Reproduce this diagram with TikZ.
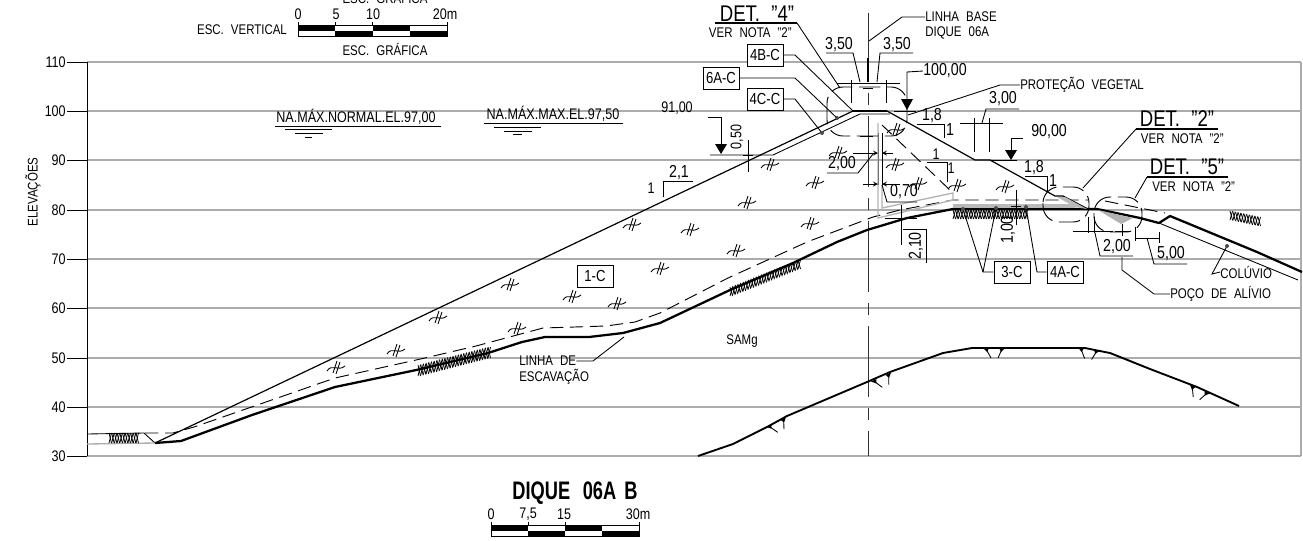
\documentclass[tikz,border=0pt]{standalone}
\usepackage{fontspec}
\setmainfont[FakeStretch=0.82, WordSpace=2.2]{Liberation Sans}
\newfontfamily\titlefont[FakeStretch=0.72, WordSpace=1.6]{Liberation Sans}
\usetikzlibrary{arrows, calc}

\tikzstyle{grid} = [gray!65, line width=1pt]
\tikzstyle{thinline} = [black, line width=0.65pt]
\tikzstyle{profile} = [black, line width=0.9pt]
\tikzstyle{cutline} = [black, line width=1.7pt]
\tikzstyle{dashline} = [black, line width=0.7pt, dash pattern=on 10pt off 5pt]
\tikzstyle{cloud} = [black, line width=0.7pt, dash pattern=on 16pt off 5pt, rounded corners=12pt]
\tikzstyle{centerline} = [
    black!80,
    line width=0.7pt,
    dash pattern=on 53.25pt off 8.25pt on 9pt off 8.25pt,
    dash phase=1.5pt
]
\tikzstyle{arrow} = [thinline, ->, >=stealth]
\tikzstyle{label} = [inner sep=0pt, font=\fontsize{10.5}{12}\selectfont]
\tikzstyle{bigger} = [inner sep=0pt, font=\fontsize{11.5}{12}\selectfont]
\tikzstyle{dimtext} = [inner sep=0pt, font=\fontsize{13}{14}\selectfont]
\tikzstyle{dettext} = [inner sep=0pt, font=\fontsize{17}{18}\selectfont]
\tikzstyle{titletext} = [inner sep=0pt, font=\fontsize{19}{22}\titlefont\bfseries]
\tikzstyle{tagbox} = [
    rectangle,
    draw=black,
    line width=0.7pt,
    fill=white,
    minimum width=27pt,
    minimum height=16.5pt,
    inner sep=0pt,
    font=\fontsize{12}{12}\selectfont
]

\newcommand{\claymark}[2]{
    \begin{scope}[shift={(#1,#2)}]
        \draw [thinline] (-9,4) .. controls (-4,-4) and (2,5) .. (9,-1);
        \draw [thinline] (-3,6) -- (1,-6);
        \draw [thinline] (0,7) -- (4,-5);
    \end{scope}
}
\newcommand{\rockmark}[3]{
    \begin{scope}[shift={(#1,#2)}, rotate=#3]
        \fill (-11,0) -- (-5,0) -- (-7,4) -- cycle;
        \fill (5,0) -- (11,0) -- (7,4) -- cycle;
        \draw [thinline] (-8,1) -- (-3,10);
        \draw [thinline] (8,1) -- (4,10);
    \end{scope}
}
\newcommand{\hatchband}[6]{
    \foreach \i in {0,...,#6} {
        \pgfmathsetmacro{\t}{\i/#6}
        \draw [black, line width=0.6pt] ($(#1,#2)!\t!(#3,#4)$) -- ++(2.5,#5);
        \draw [black, line width=0.6pt] ($(#1,#2)!\t!(#3,#4)+(2.5,0)$) -- ++(-2.5,#5);
    }
}
\newcommand{\scalebar}[3]{
    \foreach \i in {0,2} {
        \fill [black] ($(#1,#2)+(\i*#3,0)$) rectangle ++(#3,5.5);
        \fill [black] ($(#1,#2)+(\i*#3+#3,5.5)$) rectangle ++(#3,5.5);
    }
    \draw [thinline] (#1,#2) rectangle ++(4*#3,11);
    \foreach \i in {0,1,2,4} {
        \draw [thinline] ($(#1,#2)+(\i*#3,-3)$) -- ++(0,3);
    }
}

\begin{document}
\begin{tikzpicture}[x=0.75pt, y=-0.75pt, node distance=12pt]
    \useasboundingbox (0,0) rectangle (1303,540);

    \foreach \val/\ypos in {110/62, 100/111, 90/160, 80/210, 70/259, 60/308, 50/358, 40/407, 30/456} {
        \draw [grid] (87,\ypos) -- (1301,\ypos);
        \node (tick\val) [bigger, anchor=east] at (66,\ypos) {\val};
        \draw [thinline] (67,\ypos) -- (87,\ypos);
    }
    \draw [thinline] (87,62) -- (87,456);
    \draw [grid] (1301,62) -- (1301,456);
    \node (elevacoes) [label, rotate=90] at (33,192) {ELEVAÇÕES};

    % scale bars
    \node (escclip) [label] at (385,-3) {ESC. GRÁFICA};
    \scalebar{298}{25}{37.25}
    \node (s0) [bigger] at (298,14) {0};
    \node (s5) [bigger] at (336,14) {5};
    \node (s10) [bigger] at (373,14) {10};
    \node (s20) [bigger] at (445,14) {20m};
    \node (escvert) [label] at (242,30) {ESC. VERTICAL};
    \node (escgraf) [label] at (385,49) {ESC. GRÁFICA};

    \node (title) [titletext] at (575,493) {DIQUE\enspace 06A B};
    \scalebar{491}{525}{37}
    \node (b0) [bigger] at (491,514) {0};
    \node (b7) [bigger] at (528,514) {7,5};
    \node (b15) [bigger] at (564,514) {15};
    \node (b30) [bigger] at (638,514) {30m};

    % water levels
    \node (namax) [bigger] at (356,117) {NA.MÁX.NORMAL.EL.97,00};
    \draw [thinline] (275,126) -- (441,126);
    \draw [thinline] (285,129) -- (332,129);
    \draw [thinline] (295,133) -- (323,133);
    \draw [thinline] (305,137) -- (312,137);
    \node (namaxmax) [bigger] at (553,114) {NA.MÁX.MAX.EL.97,50};
    \draw [thinline] (484,123) -- (623,123);
    \draw [thinline] (494,127) -- (541,127);
    \draw [thinline] (504,131) -- (532,131);
    \draw [thinline] (513,134) -- (522,134);

    % center line
    \coordinate (base) at (869,41);
    \draw [centerline] (868,13) -- (868,456);
    \draw [line width=1.2pt] (868,58) -- (868,82);

    % dam
    \draw [thinline] (87,434) -- (144,433) -- (155,443);
    \draw [grid] (87,444) -- (155,443);
    \draw [profile] (155,443) -- (853,111);
    \draw [cutline] (853,111) -- (887,111);
    \draw [profile] (887,111) -- (975,160) -- (990,160) -- (1055,196) -- (1063,196) -- (1088,209);
    \draw [thinline] (710,155) -- (773,155) -- (860,114) -- (890,114);
    \draw [cutline, line join=round] (155,443) -- (181,441) -- (252,415) -- (335,387) -- (421,369) -- (488,353)
        -- (522,342) -- (545,337) -- (589,337) -- (623,333) -- (660,323) -- (730,290) -- (793,263)
        -- (837,242) -- (867,230) -- (907,218) -- (953,209) -- (1088,209) -- (1097,209)
        -- (1140,218) -- (1159,223) -- (1170,216) -- (1257,252) -- (1302,272);
    \draw [dashline] (145,433) -- (173,433) -- (194,427) -- (335,378) -- (425,358) -- (476,346) -- (543,328)
        -- (606,326) -- (635,322) -- (660,313) -- (728,278) -- (807,242) -- (873,217) -- (900,210)
        -- (953,200) -- (1088,200);
    \draw [dashline] (1105,201) -- (1165,213);
    \draw [thinline] (1159,223) -- (1298,280);

    % filter and drain
    \draw [thinline] (878,133) -- (878,185);
    \draw [thinline] (882,133) -- (882,185);
    \draw [gray!60, line width=1pt] (878,123) -- (878,218) -- (953,200) -- (953,193) -- (882,208) -- (882,185);
    \draw [dashline] (882,125) -- (953,193);
    \fill [gray!55] (953,204) rectangle (1075,208);
    \fill [gray!55] (1057,197) -- (1065,197) -- (1087,209) -- (1075,207) -- cycle;
    \fill [gray!60] (1098,210) -- (1121,224) -- (1133,218) -- cycle;

    % hatching
    \hatchband{109}{433}{136}{433}{10}{10}
    \hatchband{418}{365}{488}{347}{11}{26}
    \hatchband{730}{287}{798}{260}{9}{26}
    \hatchband{953}{210}{1025}{210}{9}{28}
    \hatchband{1230}{211}{1258}{217}{9}{10}

    % clay marks
    \foreach \xpos/\ypos in {336/367, 396/350, 438/317, 517/328, 510/284, 572/296, 617/303, 660/268, 632/224,
        690/229, 736/250, 747/202, 770/164, 810/223, 815/182, 838/152, 896/129, 895/164, 918/183, 957/185, 1005/186} {
        \claymark{\xpos}{\ypos}
    }

    % rock
    \draw [cutline, line width=1.4pt] (698,456) -- (733,444) -- (767,427) -- (787,416) -- (867,382) -- (890,372)
        -- (943,353) -- (972,348) -- (1085,348) -- (1110,353) -- (1150,369) -- (1197,387) -- (1239,406);
    \rockmark{776}{422}{26}
    \rockmark{881}{377}{24}
    \rockmark{994}{348}{0}
    \rockmark{1089}{349}{-8}
    \rockmark{1200}{389}{-24}

    % details
    \draw [cloud] (827,87) rectangle (907,136);
    \draw [cloud] (1043,187) rectangle (1089,222);
    \draw [cloud] (1094,197) rectangle (1142,232);
    \node (det4) [dettext] at (757,14) {DET.\enspace "4"};
    \node (det4note) [label, below of=det4, xshift=-5pt, yshift=-2pt] {VER NOTA "2"};
    \draw [line width=1.3pt] (715,23) -- (797,23);
    \draw [thinline] (797,23) -- (840,88);
    \node (det2) [dettext] at (1177,119) {DET.\enspace "2"};
    \node (det2note) [label, below of=det2, xshift=4pt, yshift=-3pt] {VER NOTA "2"};
    \draw [line width=1.3pt] (1136,129) -- (1218,129);
    \draw [thinline] (1136,129) -- (1083,188);
    \node (det5) [dettext] at (1187,167) {DET.\enspace "5"};
    \node (det5note) [label, below of=det5, xshift=5pt, yshift=-3pt] {VER NOTA "2"};
    \draw [line width=1.3pt] (1147,177) -- (1228,177);
    \draw [thinline] (1147,177) -- (1135,198);

    % crest dimensions
    \node (linha) [label, anchor=west] at (925,17) {LINHA BASE};
    \node (dique) [label, anchor=west] at (925,33) {DIQUE 06A};
    \draw [thinline] (base) -- (902,17) -- (linha.west);
    \draw [thinline] (837,83) -- (900,83);
    \draw [thinline] (851,80) -- (851,103);
    \draw [thinline] (886,80) -- (886,103);
    \node (d350a) [dimtext] at (839,45) {3,50};
    \node (d350b) [dimtext] at (897,45) {3,50};
    \draw [thinline] (826,53) -- (853,53) -- (860,82);
    \draw [thinline] (913,53) -- (880,53) -- (877,82);
    \draw [thinline] (863,88) -- (873,88);
    \draw [thinline] (860,136) -- (873,136);

    \node (el100) [dimtext, anchor=west] at (923,71) {100,00};
    \draw [thinline] (el100.west) -- (907,72) -- (907,100);
    \fill (901,99) -- (913,99) -- (907,110) -- cycle;
    \draw [thinline] (894,111) -- (916,111);

    \node (protecao) [label, anchor=west] at (1020,85) {PROTEÇÃO VEGETAL};
    \coordinate (veg) at (908,115);
    \draw [thinline] (veg) -- (1000,85) -- (protecao.west);

    \node (s18a) [dimtext] at (932,116) {1,8};
    \node (s18b) [dimtext] at (950,130) {1};
    \draw [thinline] (917,124) -- (944,124) -- (944,138);

    \node (d300) [dimtext] at (1003,99) {3,00};
    \draw [thinline] (1019,109) -- (986,109) -- (982,123);
    \draw [thinline] (960,123) -- (1003,123);
    \draw [thinline] (974,118) -- (974,152);
    \draw [thinline] (989,118) -- (989,152);

    \node (el90) [dimtext, anchor=west] at (1031,132) {90,00};
    \draw [thinline] (1023,138) -- (1011,138) -- (1011,150);
    \fill (1005,150) -- (1017,150) -- (1011,160) -- cycle;
    \draw [thinline] (990,160) -- (1017,160);

    \node (s18c) [dimtext] at (1034,168) {1,8};
    \node (s18d) [dimtext] at (1053,181) {1};
    \draw [thinline] (1025,176) -- (1047,176) -- (1047,192);

    % upstream
    \node (el91) [bigger] at (677,108) {91,00};
    \draw [thinline] (708,117) -- (721,117) -- (721,144);
    \fill (715,144) -- (727,144) -- (721,154) -- cycle;
    \node (d050) [bigger, rotate=90] at (737,137) {0,50};
    \draw [thinline] (748,140) -- (748,172);
    \draw [thinline] (743,155) -- (753,155);
    \node (s21) [dimtext] at (679,173) {2,1};
    \node (s1a) [bigger] at (651,188) {1};
    \draw [thinline] (663,197) -- (663,181) -- (693,181);

    % inner dimensions
    \node (d200a) [dimtext] at (842,164) {2,00};
    \draw [arrow] (853,153) -- (878,153);
    \draw [arrow] (893,153) -- (882,153);
    \draw [thinline] (873,154) -- (858,173) -- (827,173);
    \node (s1b) [bigger] at (936,154) {1};
    \node (s1c) [bigger] at (951,168) {1};
    \draw [thinline] (927,162) -- (947,162) -- (947,182);
    \node (d070) [dimtext] at (904,192) {0,70};
    \draw [arrow] (863,184) -- (878,184);
    \draw [arrow] (900,184) -- (882,184);
    \draw [thinline] (882,185) -- (887,202) -- (917,202);
    \node (d210) [dimtext, rotate=90] at (916,246) {2,10};
    \draw [thinline] (901,205) -- (901,245);
    \draw [thinline] (885,218) -- (917,218);
    \draw [thinline] (903,229) -- (926,229) -- (926,263);
    \node (d100) [dimtext, rotate=90] at (1008,230) {1,00};
    \draw [thinline] (1016,190) -- (1016,225);
    \draw [thinline] (1011,206) -- (1021,206);

    % material tags
    \node (tag4b) [tagbox] at (765,55) {4B-C};
    \node (tag6a) [tagbox] at (721,78) {6A-C};
    \node (tag4c) [tagbox] at (765,99) {4C-C};
    \node (tag1) [tagbox] at (595,276) {1-C};
    \node (tag3) [tagbox] at (1012,272) {3-C};
    \node (tag4a) [tagbox] at (1065,272) {4A-C};
    \coordinate (p4b) at (853,111);
    \coordinate (p6a) at (837,118);
    \coordinate (p4c) at (822,133);
    \coordinate (p3a) at (963,209);
    \coordinate (p3b) at (996,208);
    \coordinate (p4a) at (1026,207);
    \draw [thinline] (tag4b.east) -- (795,55) -- (p4b);
    \draw [thinline] (tag6a.east) -- (795,78) -- (p6a);
    \draw [thinline] (tag4c.east) -- (795,99) -- (p4c);
    \draw [thinline] (tag3.west) -- (983,272) -- (p3a);
    \draw [thinline] (983,272) -- (p3b);
    \draw [thinline] (tag4a.west) -- (1037,272) -- (p4a);
    \foreach \dotpos in {p6a, p4c, p3a, p3b, p4a} {
        \fill [black!70] (\dotpos) circle (1.5pt);
    }

    % right side
    \node (d200b) [dimtext] at (1117,247) {2,00};
    \draw [thinline] (1073,231) -- (1113,231);
    \draw [thinline] (1088,217) -- (1088,233);
    \draw [thinline] (1094,217) -- (1094,233);
    \draw [thinline] (1095,233) -- (1100,256) -- (1133,256);
    \draw [thinline] (1122,224) -- (1122,236);
    \draw [thinline] (1115,231) -- (1129,231);
    \node (d500) [dimtext] at (1171,254) {5,00};
    \draw [thinline] (1135,238) -- (1159,238);
    \draw [thinline] (1135,227) -- (1135,241);
    \draw [thinline] (1159,232) -- (1159,243);
    \draw [thinline] (1147,238) -- (1154,264) -- (1187,264);
    \node (poco) [label, anchor=west] at (1170,294) {POÇO DE ALÍVIO};
    \draw [thinline] (1122,257) -- (1122,270) -- (1154,294) -- (poco.west);
    \node (coluvio) [label, anchor=west] at (1220,272) {COLÚVIO};
    \coordinate (pcol) at (1227,246);
    \draw [thinline] (pcol) -- (1212,274) -- (coluvio.west);
    \fill [black!70] (pcol) circle (1.5pt);

    \node (escav1) [label, anchor=west] at (519,361) {LINHA DE};
    \node (escav2) [label, anchor=west] at (519,377) {ESCAVAÇÃO};
    \coordinate (pesc) at (624,337);
    \draw [thinline] (escav1.east) -- (593,361) -- (pesc);
    \node (samg) [label] at (742,341) {SAMg};
\end{tikzpicture}
\end{document}
